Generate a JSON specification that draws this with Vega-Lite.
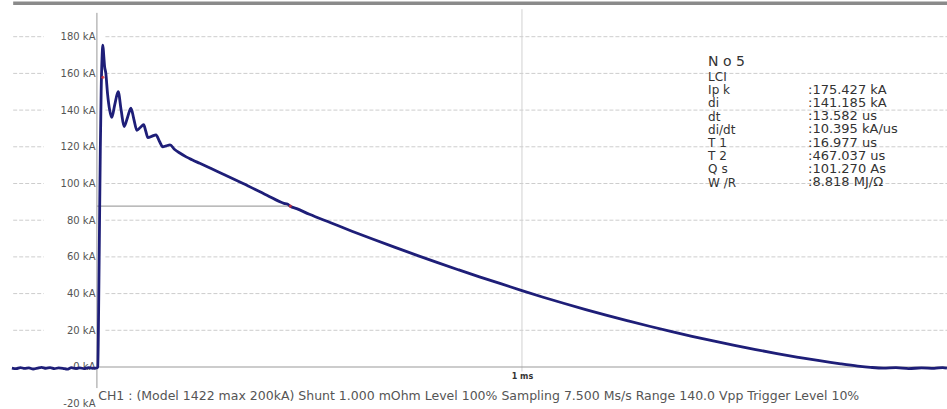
{
  "$schema": "https://vega.github.io/schema/vega-lite/v6.json",
  "width": 947,
  "height": 409,
  "autosize": {"type": "none"},
  "padding": 0,
  "background": "white",
  "config": {"view": {"stroke": null}, "font": "DejaVu Sans"},
  "datasets": {
    "wave": [
      {"t": -0.2, "i": -0.6}, {"t": -0.19, "i": -0.9}, {"t": -0.18, "i": -0.3}, {"t": -0.17, "i": -0.8},
      {"t": -0.16, "i": -0.5}, {"t": -0.15, "i": -1.1}, {"t": -0.14, "i": -0.6}, {"t": -0.13, "i": -0.2},
      {"t": -0.12, "i": -0.7}, {"t": -0.11, "i": -0.4}, {"t": -0.1, "i": -0.9}, {"t": -0.09, "i": -0.5},
      {"t": -0.08, "i": -0.7}, {"t": -0.07, "i": -1.2}, {"t": -0.06, "i": -0.4}, {"t": -0.05, "i": -0.8},
      {"t": -0.04, "i": -0.5}, {"t": -0.03, "i": -0.9}, {"t": -0.02, "i": -0.4}, {"t": -0.01, "i": -0.7},
      {"t": 0, "i": -0.5}, {"t": 0.002, "i": 0}, {"t": 0.004, "i": 30}, {"t": 0.006, "i": 75},
      {"t": 0.008, "i": 118}, {"t": 0.01, "i": 150}, {"t": 0.012, "i": 168}, {"t": 0.014, "i": 175.4},
      {"t": 0.016, "i": 170}, {"t": 0.018, "i": 164}, {"t": 0.021, "i": 160}, {"t": 0.025, "i": 149},
      {"t": 0.03, "i": 140}, {"t": 0.035, "i": 136}, {"t": 0.042, "i": 143}, {"t": 0.05, "i": 150},
      {"t": 0.057, "i": 140}, {"t": 0.064, "i": 131}, {"t": 0.072, "i": 136}, {"t": 0.08, "i": 141},
      {"t": 0.087, "i": 135}, {"t": 0.094, "i": 129}, {"t": 0.102, "i": 130.5}, {"t": 0.11, "i": 132},
      {"t": 0.115, "i": 128.5}, {"t": 0.12, "i": 125}, {"t": 0.13, "i": 125.8}, {"t": 0.139, "i": 126.5},
      {"t": 0.147, "i": 123}, {"t": 0.155, "i": 120}, {"t": 0.163, "i": 120.5}, {"t": 0.172, "i": 121},
      {"t": 0.183, "i": 118.5}, {"t": 0.195, "i": 116.6}, {"t": 0.21, "i": 114.5}, {"t": 0.225, "i": 112.8},
      {"t": 0.242, "i": 111}, {"t": 0.27, "i": 108}, {"t": 0.3, "i": 104.8}, {"t": 0.344, "i": 100},
      {"t": 0.4, "i": 93.6}, {"t": 0.44, "i": 89.2}, {"t": 0.448, "i": 88.8}, {"t": 0.455, "i": 87.6},
      {"t": 0.47, "i": 86.3}, {"t": 0.5, "i": 83.2}, {"t": 0.55, "i": 78.6}, {"t": 0.6, "i": 74.0},
      {"t": 0.65, "i": 69.6}, {"t": 0.7, "i": 65.3}, {"t": 0.75, "i": 61.1}, {"t": 0.8, "i": 57.0},
      {"t": 0.85, "i": 53.0}, {"t": 0.9, "i": 49.1}, {"t": 0.95, "i": 45.4}, {"t": 1.0, "i": 41.6},
      {"t": 1.05, "i": 38.0}, {"t": 1.1, "i": 34.6}, {"t": 1.15, "i": 31.3}, {"t": 1.2, "i": 28.1},
      {"t": 1.25, "i": 25.1}, {"t": 1.3, "i": 22.2}, {"t": 1.35, "i": 19.4}, {"t": 1.4, "i": 16.7},
      {"t": 1.45, "i": 14.2}, {"t": 1.5, "i": 11.8}, {"t": 1.55, "i": 9.5}, {"t": 1.6, "i": 7.3},
      {"t": 1.65, "i": 5.3}, {"t": 1.7, "i": 3.4}, {"t": 1.75, "i": 1.7}, {"t": 1.79, "i": 0.5},
      {"t": 1.82, "i": -0.2}, {"t": 1.85, "i": -0.6}, {"t": 1.88, "i": -0.4}, {"t": 1.91, "i": -0.9},
      {"t": 1.94, "i": -0.5}, {"t": 1.97, "i": -0.8}, {"t": 1.99, "i": -0.3}, {"t": 2.0, "i": -0.6}
    ],
    "grid": [
      {"g": 20}, {"g": 40}, {"g": 60}, {"g": 80}, {"g": 100}, {"g": 120}, {"g": 140}, {"g": 160}, {"g": 180}
    ],
    "marks": [
      {"t": 0.455, "i": 87.7}, {"t": 0.014, "i": 157.9}
    ]
  },
  "layer": [
    {
      "data": {"name": "grid"},
      "mark": {"type": "rule", "color": "#cdcdcd", "strokeDash": [4, 2], "strokeWidth": 1},
      "encoding": {
        "y": {"field": "g", "type": "quantitative",
          "scale": {"domain": [-22.9, 200], "nice": false, "zero": false},
          "axis": {"orient": "left", "offset": -97, "values": [-20, 0, 20, 40, 60, 80, 100, 120, 140, 160, 180],
            "labelExpr": "datum.value + ' kA'", "title": null, "domain": false, "ticks": false, "grid": false,
            "labelPadding": 2, "labelFontSize": 10, "labelColor": "#555555", "labelFont": "DejaVu Sans"}},
        "x": {"datum": -0.197, "type": "quantitative", "scale": {"domain": [-0.228, 2.0], "nice": false, "zero": false}},
        "x2": {"datum": -0.125}
      }
    },
    {
      "data": {"name": "grid"},
      "mark": {"type": "rule", "color": "#cdcdcd", "strokeDash": [4, 2], "strokeWidth": 1},
      "encoding": {
        "y": {"field": "g", "type": "quantitative"},
        "x": {"datum": 0.02, "type": "quantitative"},
        "x2": {"datum": 2.0}
      }
    },
    {
      "data": {"values": [{}]},
      "mark": {"type": "rule", "color": "#d2d2d2", "strokeWidth": 1},
      "encoding": {"x": {"datum": 1, "type": "quantitative"}, "y": {"datum": 195, "type": "quantitative"}, "y2": {"datum": -2.5}}
    },
    {
      "data": {"values": [{}]},
      "mark": {"type": "rule", "color": "#999999", "strokeWidth": 1},
      "encoding": {"x": {"datum": 0, "type": "quantitative"}, "y": {"datum": 193, "type": "quantitative"}, "y2": {"datum": -11.5}}
    },
    {
      "data": {"values": [{}]},
      "mark": {"type": "rule", "color": "#9a9a9a", "strokeWidth": 1.2},
      "encoding": {"y": {"datum": 0, "type": "quantitative"}, "x": {"datum": 0, "type": "quantitative"}, "x2": {"datum": 2.0}}
    },
    {
      "data": {"values": [{}]},
      "mark": {"type": "rule", "color": "#8a8a8a", "strokeWidth": 3.5},
      "encoding": {"y": {"datum": 198.2, "type": "quantitative"}, "x": {"datum": -0.197, "type": "quantitative"}, "x2": {"datum": 2.0}}
    },
    {
      "data": {"values": [{}]},
      "mark": {"type": "rule", "color": "#a5a5a5", "strokeWidth": 1.2},
      "encoding": {"y": {"datum": 87.7, "type": "quantitative"}, "x": {"datum": 0, "type": "quantitative"}, "x2": {"datum": 0.455}}
    },
    {
      "data": {"name": "wave"},
      "mark": {"type": "line", "color": "#1e1e78", "strokeWidth": 2.8, "interpolate": "monotone"},
      "encoding": {
        "x": {"field": "t", "type": "quantitative",
          "axis": {"orient": "bottom", "offset": -42, "values": [1], "labelExpr": "datum.value + ' ms'",
            "title": null, "domain": false, "ticks": false, "grid": false, "labelPadding": 5,
            "labelFontSize": 8, "labelFontWeight": "bold", "labelColor": "#333333"}},
        "y": {"field": "i", "type": "quantitative"}
      }
    },
    {
      "data": {"name": "marks"},
      "mark": {"type": "point", "filled": true, "color": "#e03030", "size": 10, "opacity": 0.8},
      "encoding": {
        "x": {"field": "t", "type": "quantitative"},
        "y": {"field": "i", "type": "quantitative"}
      }
    },
    {
      "data": {"values": [{}]},
      "mark": {"type": "text", "align": "left", "baseline": "middle", "fontSize": 14, "color": "#333333"},
      "encoding": {"x": {"datum": 1.438, "type": "quantitative"}, "y": {"datum": 166.2, "type": "quantitative"}, "text": {"value": "N o 5"}}
    },
    {
      "data": {"values": [{}]},
      "mark": {"type": "text", "align": "left", "baseline": "top", "fontSize": 12, "lineHeight": 13.2, "color": "#333333"},
      "encoding": {"x": {"datum": 1.438, "type": "quantitative"}, "y": {"datum": 160.8, "type": "quantitative"},
        "text": {"value": ["LCI", "Ip k", "di", "dt", "di/dt", "T 1", "T 2", "Q s", "W /R"]}}
    },
    {
      "data": {"values": [{}]},
      "mark": {"type": "text", "align": "left", "baseline": "top", "fontSize": 13, "lineHeight": 13.2, "color": "#333333"},
      "encoding": {"x": {"datum": 1.673, "type": "quantitative"}, "y": {"datum": 154.3, "type": "quantitative"},
        "text": {"value": [":175.427 kA", ":141.185 kA", ":13.582 us", ":10.395 kA/us", ":16.977 us", ":467.037 us", ":101.270 As", ":8.818 MJ/Ω"]}}
    },
    {
      "data": {"values": [{}]},
      "mark": {"type": "text", "align": "left", "baseline": "middle", "fontSize": 12.5, "color": "#555555"},
      "encoding": {"x": {"datum": 0.003, "type": "quantitative"}, "y": {"datum": -16.0, "type": "quantitative"},
        "text": {"value": "CH1 : (Model 1422 max 200kA)  Shunt 1.000 mOhm  Level 100%  Sampling 7.500 Ms/s  Range 140.0 Vpp  Trigger Level 10%"}}
    }
  ]
}
